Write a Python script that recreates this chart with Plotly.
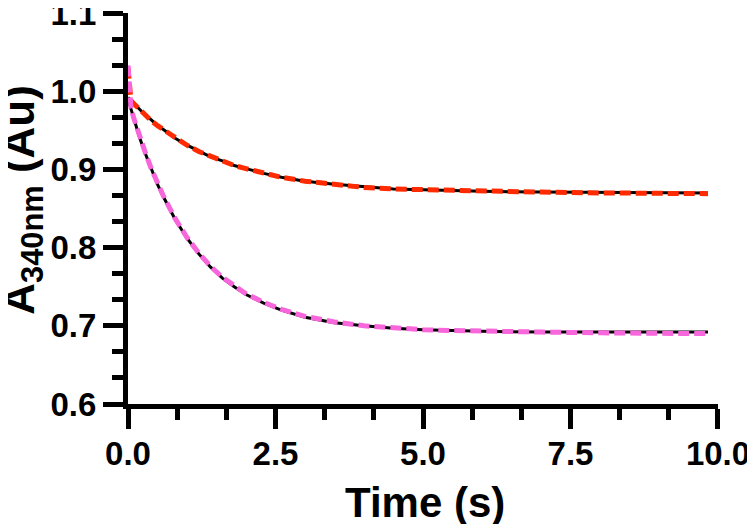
import plotly.graph_objects as go

# tiempos (s)
t = [0.0, 0.05, 0.1, 0.2, 0.3, 0.4, 0.5, 0.6, 0.8, 1.0, 1.2, 1.4, 1.6, 1.8, 2.0,
     2.3, 2.6, 3.0, 3.5, 4.0, 4.5, 5.0, 5.5, 6.0, 7.0, 8.0, 9.0, 9.83]

# datos y ajustes
rojo_datos = [1.030, 0.988, 0.984, 0.976, 0.969, 0.962, 0.956, 0.951, 0.940, 0.931, 0.923, 0.917,
              0.911, 0.905, 0.901, 0.895, 0.890, 0.885, 0.881, 0.877, 0.875, 0.874, 0.873, 0.872,
              0.871, 0.870, 0.870, 0.869]
rojo_ajuste = [0.992, 0.988, 0.984, 0.976, 0.969, 0.963, 0.956, 0.951, 0.940, 0.931, 0.923, 0.916,
               0.911, 0.905, 0.901, 0.895, 0.890, 0.885, 0.881, 0.878, 0.875, 0.874, 0.873, 0.872,
               0.871, 0.8705, 0.870, 0.870]

t_mag = [0.0, 0.03, 0.05, 0.1, 0.2, 0.3, 0.4, 0.5, 0.6, 0.8, 1.0, 1.2, 1.4, 1.6, 1.8, 2.0,
         2.3, 2.6, 3.0, 3.5, 4.0, 4.5, 5.0, 5.5, 6.0, 7.0, 8.0, 9.0, 9.83]
magenta_datos = [1.033, 0.992, 0.979, 0.965, 0.941, 0.920, 0.900, 0.882, 0.866, 0.837, 0.813, 0.793,
                 0.776, 0.762, 0.751, 0.741, 0.730, 0.721, 0.712, 0.705, 0.700, 0.697, 0.695, 0.694,
                 0.693, 0.692, 0.691, 0.691, 0.690]
magenta_ajuste = [0.990, 0.982, 0.977, 0.964, 0.940, 0.919, 0.899, 0.881, 0.865, 0.836, 0.812, 0.792,
                  0.775, 0.761, 0.750, 0.740, 0.729, 0.720, 0.711, 0.704, 0.700, 0.697, 0.695, 0.694,
                  0.693, 0.692, 0.692, 0.692, 0.692]

x_ticks = [0, 2.5, 5, 7.5, 10]
x_labels = ['0.0', '2.5', '5.0', '7.5', '10.0']
y_ticks = [0.6, 0.7, 0.8, 0.9, 1.0, 1.1]
y_labels = ['0.6', '0.7', '0.8', '0.9', '1.0', '1.1']

fuente = 'Liberation Sans, Arial, sans-serif'
negro = 'black'

fig = go.Figure()
fig.add_trace(go.Scatter(x=t, y=rojo_ajuste, mode='lines', line=dict(color=negro, width=3), showlegend=False))
fig.add_trace(go.Scatter(x=t_mag, y=magenta_ajuste, mode='lines', line=dict(color=negro, width=3), showlegend=False))
fig.add_trace(go.Scatter(x=t, y=rojo_datos, mode='lines',
                         line=dict(color='#FF2A00', width=5, dash='11px,5px'), showlegend=False))
fig.add_trace(go.Scatter(x=t_mag, y=magenta_datos, mode='lines',
                         line=dict(color='#F766DA', width=5, dash='11px,5px'), showlegend=False))

fuente_ticks = dict(family=fuente, size=33, color=negro, weight='bold')
eje = dict(showgrid=False, zeroline=False, showline=True, linecolor=negro, linewidth=5,
           ticks='outside', tickwidth=5, ticklen=20, tickcolor=negro,
           tickfont=fuente_ticks, automargin=False, ticklabeloverflow='allow')

fig.update_xaxes(range=[0, 10.0001], tickvals=x_ticks, ticktext=x_labels, ticklabelstandoff=-4,
                 minor=dict(dtick=2.5/3, tick0=0, ticks='outside', ticklen=11, tickwidth=5, tickcolor=negro),
                 **eje)
fig.update_yaxes(range=[0.6, 1.1001], tickvals=y_ticks, ticktext=y_labels,
                 minor=dict(dtick=0.1/3, tick0=0.6, ticks='outside', ticklen=11, tickwidth=5, tickcolor=negro),
                 **eje)

# titulos de ejes como anotaciones para ubicarlos bien
fig.add_annotation(text='Time (s)', xref='paper', yref='paper', x=0.503, y=-0.253,
                   xanchor='center', yanchor='middle', showarrow=False,
                   font=dict(family=fuente, size=42, color=negro, weight='bold'))
fig.add_annotation(text='A<sub>340nm</sub> (Au)', xref='paper', yref='paper', x=-0.18, y=0.522,
                   xanchor='center', yanchor='middle', showarrow=False, textangle=-90,
                   font=dict(family=fuente, size=44, color=negro, weight='bold'))

# la pagina deja 8 px de margen en el body, se compensa aqui
fig.update_layout(width=747, height=516, plot_bgcolor='white', paper_bgcolor='white',
                  margin=dict(l=120, r=37, t=5, b=120),
                  font=dict(family=fuente, color=negro))

fig.write_html("out.html")
